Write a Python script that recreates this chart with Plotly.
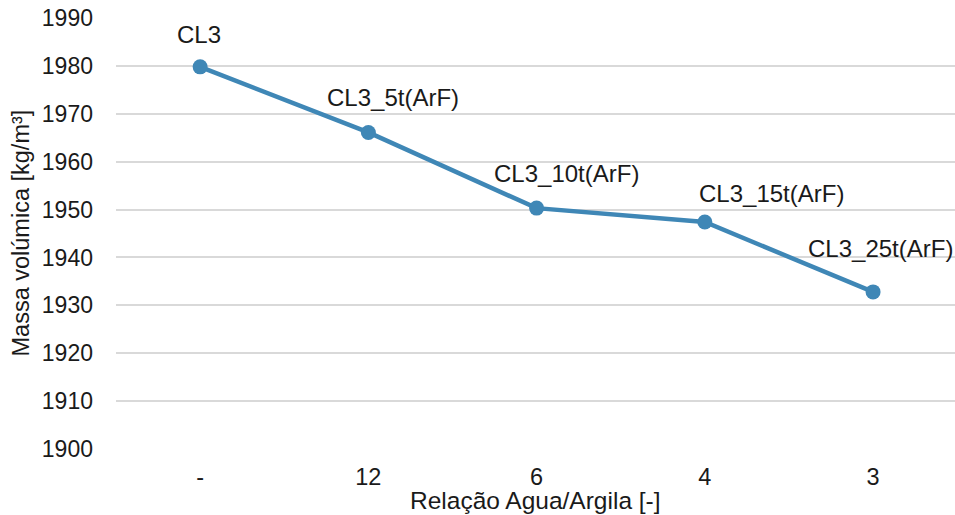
import plotly.graph_objects as go

categories = ["-", "12", "6", "4", "3"]
density = [1979.8, 1966.1, 1950.3, 1947.4, 1932.8]
point_labels = ["CL3", "CL3_5t(ArF)", "CL3_10t(ArF)", "CL3_15t(ArF)", "CL3_25t(ArF)"]
y_ticks = [1900, 1910, 1920, 1930, 1940, 1950, 1960, 1970, 1980, 1990]

# label offsets (pixels) as placed in the original chart
label_dx = [-1.5, 25, 30, 67, 7.5]
label_dy = [32, 34.5, 34.5, 29, 43]

FONT = "Liberation Sans, Arial, sans-serif"
LINE_COLOR = "#3F87B6"
TEXT_COLOR = "#1a1a1a"

fig = go.Figure()
fig.add_trace(go.Scatter(
    x=categories, y=density, mode="lines+markers",
    line=dict(color=LINE_COLOR, width=4.5),
    marker=dict(color=LINE_COLOR, size=15),
    cliponaxis=False, showlegend=False,
))

annotations = []
for i, (v, t, dx, dy) in enumerate(zip(density, point_labels, label_dx, label_dy)):
    annotations.append(dict(
        x=i, y=v, xref="x", yref="y", text=t, showarrow=False,
        xanchor="center", yanchor="middle", xshift=dx, yshift=dy,
        font=dict(family=FONT, size=24, color=TEXT_COLOR),
    ))

annotations.append(dict(
    x=0.5, y=0, xref="paper", yref="paper", text="Relação Agua/Argila [-]",
    showarrow=False, xanchor="center", yanchor="middle", yshift=-51,
    font=dict(family=FONT, size=24.5, color=TEXT_COLOR),
))
annotations.append(dict(
    x=0, y=0.5, xref="paper", yref="paper", text="Massa volúmica [kg/m³]",
    showarrow=False, xanchor="center", yanchor="middle", xshift=-96, textangle=-90,
    font=dict(family=FONT, size=23.5, color=TEXT_COLOR),
))

fig.update_layout(
    width=955, height=515,
    margin=dict(l=116, r=0, t=18, b=66),
    paper_bgcolor="white", plot_bgcolor="white",
    font=dict(family=FONT, color=TEXT_COLOR),
    annotations=annotations,
    xaxis=dict(
        type="category", range=[-0.5, 4.487],
        showgrid=False, zeroline=False, showline=False, ticks="",
        tickfont=dict(family=FONT, size=23.5, color=TEXT_COLOR),
        ticklabelstandoff=11,
    ),
    yaxis=dict(
        range=[1900, 1990], tickvals=y_ticks,
        showgrid=True, gridcolor="#D9D9D9", gridwidth=1.5,
        zeroline=False, showline=False, ticks="",
        tickfont=dict(family=FONT, size=23, color=TEXT_COLOR),
        ticklabelstandoff=22,
    ),
)

fig.write_html("out.html")
